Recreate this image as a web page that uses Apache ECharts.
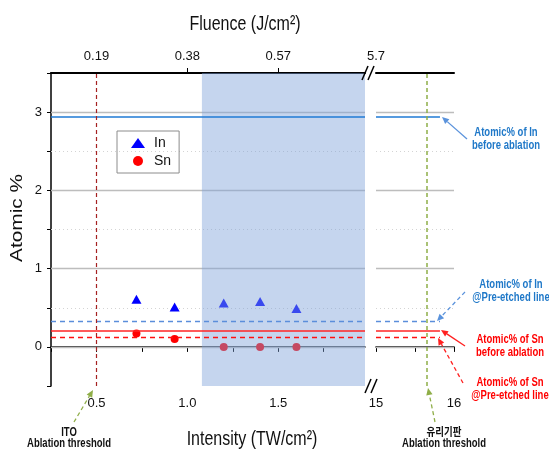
<!DOCTYPE html>
<html>
<head>
    <meta charset="utf-8" />
    <script src="https://cdn.jsdelivr.net/npm/echarts@6/dist/echarts.min.js"></script>
    <style>html, body { margin: 0; padding: 0; background: #fff; }</style>
</head>
<body>
    <div id="main" style="width: 549px; height: 451px;"></div>
    <script type="text/javascript">
        // measured values
        var intensity = [0.72, 0.93, 1.2, 1.4, 1.6];
        var inAtomic = [0.61, 0.51, 0.56, 0.58, 0.49];
        var snAtomic = [0.17, 0.10, 0.0, 0.0, 0.0];

        var inBefore = 2.94, inPreEtched = 0.33;
        var snBefore = 0.21, snPreEtched = 0.12;
        var itoThreshold = 0.5, glassThreshold = 15.65;
        var shadeStart = 1.08;
        var refLineEnd = 15.82;

        // axis ticks / labels
        var leftMin = 0.25, leftMax = 1.977;
        var rightMin = 15, rightMax = 16;
        var bottomLabels = [0.5, 1.0, 1.5];
        var bottomTicks = [0.25, 0.5, 0.75, 1.0, 1.25, 1.5, 1.75];
        var rightLabels = [15, 16];
        var rightTicks = [15, 15.5, 16];
        var topPos = [0.5, 1.0, 1.5];
        var topText = ['0.19', '0.38', '0.57'];
        var topTicks = [1.0, 1.5];
        var topRightPos = [15];
        var topRightText = ['5.7'];
        var yLabels = [0, 1, 2, 3];
        var majorGrid = [0, 1, 2, 3];
        var minorGrid = [0.5, 1.5, 2.5];

        var FONT = "'Liberation Sans', Arial, sans-serif";
        var ANNOT_FONT = "'Liberation Sans', 'Noto Sans CJK KR', sans-serif";

        var myChart = echarts.init(document.getElementById('main'));

        function near(a, b) { return Math.abs(a - b) < 1e-6; }
        function lookup(v, pos, txt) {
            for (var i = 0; i < pos.length; i++) if (near(v, pos[i])) return txt[i];
            return '';
        }

        function gridLines() {
            return majorGrid.map(function (v) {
                return { yAxis: v, lineStyle: { color: '#bdbdbd', width: 1.3, type: 'solid' } };
            }).concat(minorGrid.map(function (v) {
                return { yAxis: v, lineStyle: { color: '#d4d4d4', width: 1, type: [1, 3] } };
            }));
        }

        var inSolid = { color: '#1f7ad4', width: 1.6, type: 'solid' };
        var inDash = { color: '#5b8edb', width: 1.3, type: [5, 4] };
        var snSolid = { color: '#ff2525', width: 1.6, type: 'solid' };
        var snDash = { color: '#ff1010', width: 1.3, type: [5, 4] };

        var refs = [[inBefore, inSolid], [inPreEtched, inDash], [snBefore, snSolid], [snPreEtched, snDash]];

        // arrows and notes
        function arrow(x1, y1, x2, y2, color, dashed) {
            var dx = x2 - x1, dy = y2 - y1, len = Math.sqrt(dx * dx + dy * dy);
            var ux = dx / len, uy = dy / len, hl = 7, hw = 3.2;
            var bx = x2 - ux * hl, by = y2 - uy * hl;
            return [{
                type: 'line', z: 50,
                shape: { x1: x1, y1: y1, x2: bx, y2: by },
                style: { stroke: color, lineWidth: 1.3, lineDash: dashed ? [4, 3] : null }
            }, {
                type: 'polygon', z: 50,
                shape: { points: [[x2, y2], [bx - uy * hw, by + ux * hw], [bx + uy * hw, by - ux * hw]] },
                style: { fill: color }
            }];
        }
        function note(x, y, text, color, lh) {
            return {
                type: 'text', x: x, y: y, scaleY: 1.25, z: 50,
                style: {
                    text: text, fill: color, font: 'bold 9.5px ' + ANNOT_FONT,
                    align: 'center', verticalAlign: 'middle', lineHeight: lh || 10
                }
            };
        }
        function slash(x1, y1, x2, y2) {
            return { type: 'line', z: 50, shape: { x1: x1, y1: y1, x2: x2, y2: y2 }, style: { stroke: '#000', lineWidth: 1.5 } };
        }

        var graphics = [
            { type: 'text', x: 245, y: 24, scaleY: 1.25, style: { text: 'Fluence (J/cm²)', font: '16px ' + FONT, fill: '#111', align: 'center', verticalAlign: 'middle' } },
            { type: 'text', x: 252, y: 439, scaleY: 1.25, style: { text: 'Intensity (TW/cm²)', font: '16px ' + FONT, fill: '#111', align: 'center', verticalAlign: 'middle' } },
            { type: 'text', x: 18, y: 218, rotation: Math.PI / 2, scaleX: 1.3, style: { text: 'Atomic %', font: '16px ' + FONT, fill: '#111', align: 'center', verticalAlign: 'middle' } },
            note(506, 139, 'Atomic% of In\nbefore ablation', '#1f78c8'),
            note(511, 291, 'Atomic% of In\n@Pre-etched line', '#1f78c8'),
            note(510, 346, 'Atomic% of Sn\nbefore ablation', '#ff0000'),
            note(510, 389, 'Atomic% of Sn\n@Pre-etched line', '#ff0000'),
            note(69, 438, 'ITO\nAblation threshold', '#111', 8.5),
            note(444, 438, '유리기판\nAblation threshold', '#111', 8.5),
            slash(362, 80, 368, 66), slash(368, 80, 374, 66),
            slash(365, 393, 371, 379), slash(371, 393, 377, 379)
        ];
        graphics = graphics
            .concat(arrow(467, 139, 442, 117, '#5b93dc', false))
            .concat(arrow(465, 292, 437, 321, '#5b93dc', true))
            .concat(arrow(465, 346, 441, 330, '#ff2020', false))
            .concat(arrow(463, 383, 438, 338, '#ff2020', true))
            .concat(arrow(74, 422, 93, 390, '#8fae48', true))
            .concat(arrow(435, 422, 428, 388, '#8fae48', true));

        var labelStyle = { fontFamily: FONT, fontSize: 13, color: '#111' };

        var option = {
            animation: false,
            backgroundColor: '#fff',
            grid: [
                { left: 51, top: 73, width: 314, height: 313 },
                { left: 376, top: 73, width: 78, height: 313 }
            ],
            legend: {
                data: ['In', 'Sn'],
                orient: 'vertical',
                left: 117, top: 131,
                padding: [5, 8, 5, 14],
                itemGap: 4,
                itemWidth: 14, itemHeight: 10,
                borderColor: '#8c8c8c', borderWidth: 1,
                textStyle: { fontFamily: FONT, fontSize: 14, color: '#111', padding: [0, 0, 0, 4] }
            },
            xAxis: [
                {
                    type: 'value', gridIndex: 0, position: 'bottom', min: leftMin, max: leftMax, interval: 0.25,
                    splitLine: { show: false },
                    axisLine: { lineStyle: { color: '#000', width: 1.5 } },
                    axisTick: { length: 5, customValues: bottomTicks, lineStyle: { color: '#000' } },
                    axisLabel: Object.assign({ margin: 11, customValues: bottomLabels, formatter: function (v) { return v.toFixed(1); } }, labelStyle)
                },
                {
                    type: 'value', gridIndex: 0, position: 'top', min: leftMin, max: leftMax, interval: 0.25,
                    splitLine: { show: false },
                    axisLine: { lineStyle: { color: '#000', width: 2 } },
                    axisTick: { length: 5, customValues: topTicks, lineStyle: { color: '#000' } },
                    axisLabel: Object.assign({ margin: 10, customValues: topPos, formatter: function (v) { return lookup(v, topPos, topText); } }, labelStyle)
                },
                {
                    type: 'value', gridIndex: 1, position: 'bottom', min: rightMin, max: rightMax, interval: 0.5,
                    splitLine: { show: false },
                    axisLine: { lineStyle: { color: '#000', width: 1.5 } },
                    axisTick: { length: 5, customValues: rightTicks, lineStyle: { color: '#000' } },
                    axisLabel: Object.assign({ margin: 11, customValues: rightLabels, formatter: function (v) { return String(Math.round(v)); } }, labelStyle)
                },
                {
                    type: 'value', gridIndex: 1, position: 'top', min: rightMin, max: rightMax, interval: 0.5,
                    splitLine: { show: false },
                    axisLine: { lineStyle: { color: '#000', width: 2 } },
                    axisTick: { show: false },
                    axisLabel: Object.assign({ margin: 10, customValues: topRightPos, formatter: function (v) { return lookup(v, topRightPos, topRightText); } }, labelStyle)
                }
            ],
            yAxis: [
                {
                    type: 'value', gridIndex: 0, min: -0.5, max: 3.5, interval: 0.5,
                    splitLine: { show: false },
                    axisLine: { show: true, lineStyle: { color: '#000', width: 1.5 } },
                    axisTick: { show: true, length: 4, lineStyle: { color: '#000' } },
                    axisLabel: Object.assign({ margin: 9, customValues: yLabels, formatter: function (v) { return String(Math.round(v)); } }, labelStyle)
                },
                {
                    type: 'value', gridIndex: 1, min: -0.5, max: 3.5, interval: 0.5,
                    splitLine: { show: false },
                    axisLine: { show: false }, axisTick: { show: false }, axisLabel: { show: false }
                }
            ],
            series: [
                {
                    type: 'line', xAxisIndex: 0, yAxisIndex: 0, data: [], z: 1, silent: true,
                    markLine: { z: 1, silent: true, symbol: 'none', label: { show: false }, data: gridLines() }
                },
                {
                    type: 'line', xAxisIndex: 2, yAxisIndex: 1, data: [], z: 1, silent: true,
                    markLine: { z: 1, silent: true, symbol: 'none', label: { show: false }, data: gridLines() }
                },
                {
                    name: 'In', type: 'scatter', xAxisIndex: 0, yAxisIndex: 0, z: 2,
                    symbol: 'triangle', symbolSize: [10, 9],
                    itemStyle: { color: '#0000ff', opacity: 1 },
                    data: intensity.map(function (x, i) { return [x, inAtomic[i]]; })
                },
                {
                    name: 'Sn', type: 'scatter', xAxisIndex: 0, yAxisIndex: 0, z: 2,
                    symbol: 'circle', symbolSize: 8,
                    itemStyle: { color: '#ff0000', opacity: 1 },
                    data: intensity.map(function (x, i) { return [x, snAtomic[i]]; })
                },
                {
                    type: 'line', xAxisIndex: 0, yAxisIndex: 0, data: [], z: 3, silent: true,
                    markArea: {
                        z: 3, silent: true,
                        itemStyle: { color: 'rgba(126,162,218,0.45)' },
                        data: [[{ xAxis: shadeStart }, { xAxis: leftMax }]]
                    }
                },
                {
                    type: 'line', xAxisIndex: 0, yAxisIndex: 0, data: [], z: 4, silent: true,
                    markLine: {
                        z: 4, silent: true, symbol: 'none', label: { show: false },
                        data: refs.map(function (r) { return { yAxis: r[0], lineStyle: r[1] }; })
                            .concat([{ xAxis: itoThreshold, lineStyle: { color: '#a52121', width: 1.2, type: [4, 3] } }])
                    }
                },
                {
                    type: 'line', xAxisIndex: 2, yAxisIndex: 1, data: [], z: 4, silent: true,
                    markLine: {
                        z: 4, silent: true, symbol: 'none', label: { show: false },
                        data: refs.map(function (r) {
                            return [{ coord: [rightMin, r[0]], lineStyle: r[1] }, { coord: [refLineEnd, r[0]] }];
                        }).concat([{ xAxis: glassThreshold, lineStyle: { color: '#8fae48', width: 1.5, type: [4, 3] } }])
                    }
                }
            ],
            graphic: graphics
        };

        myChart.setOption(option);
    </script>
</body>
</html>
